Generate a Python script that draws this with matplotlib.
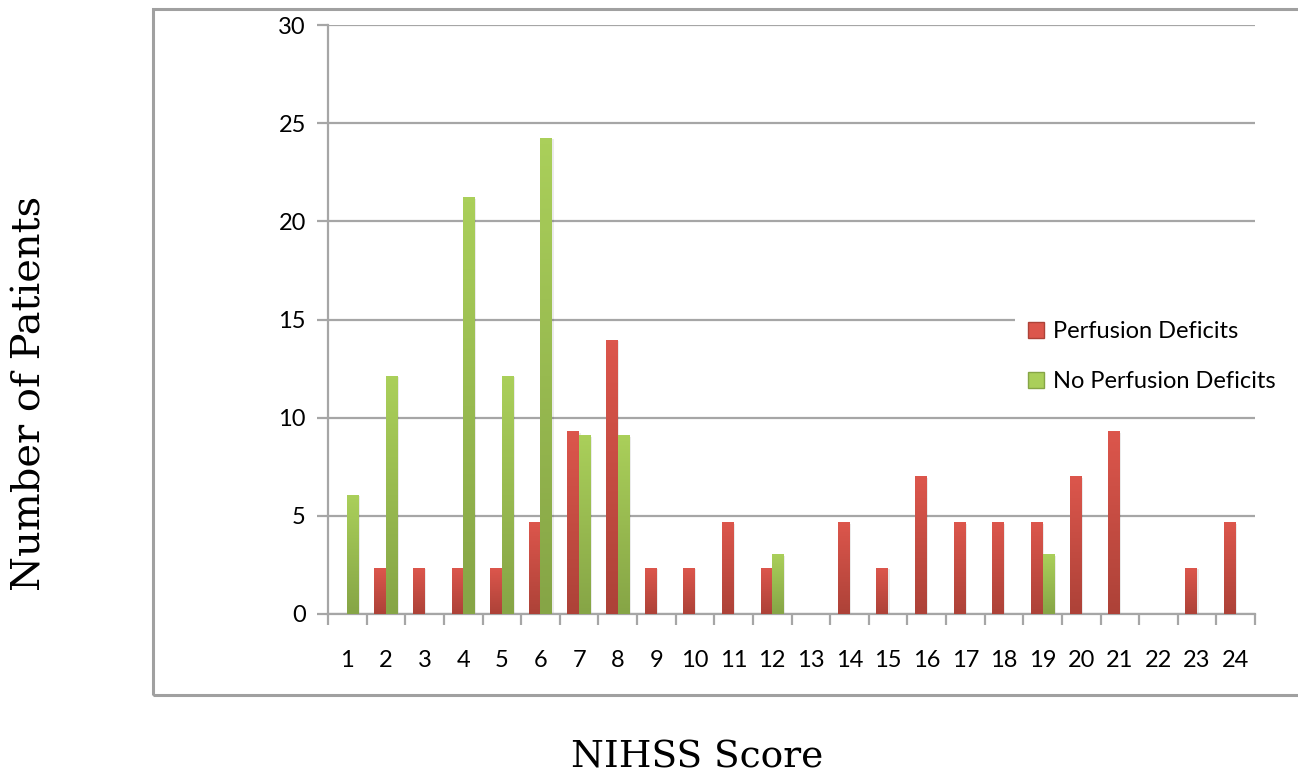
import numpy as np
import matplotlib
matplotlib.use("Agg")
import matplotlib.pyplot as plt
from matplotlib.patches import Rectangle
from matplotlib.colors import LinearSegmentedColormap
from matplotlib.lines import Line2D

# NIHSS scores shown on the x axis
scores = [str(s) for s in range(1, 25)]

# Percent of patients in each group for every NIHSS score
perfusion = [0, 2.33, 2.33, 2.33, 2.33, 4.65, 9.30, 13.95, 2.33, 2.33, 4.65, 2.33,
             0, 4.65, 2.33, 6.98, 4.65, 4.65, 4.65, 6.98, 9.30, 0, 2.33, 4.65]
no_perfusion = [6.06, 12.12, 0, 21.21, 12.12, 24.24, 9.09, 9.09, 0, 0, 0, 3.03,
                0, 0, 0, 0, 0, 0, 3.03, 0, 0, 0, 0, 0]

series_names = ["Perfusion Deficits", "No Perfusion Deficits"]
y_ticks = [0, 5, 10, 15, 20, 25, 30]

red_top, red_bot = "#dc564c", "#ad4238"
green_top, green_bot = "#aacf5a", "#86a546"
grid_col = "#a6a6a6"

W, H = 1298, 778
fig = plt.figure(figsize=(W / 100, H / 100), dpi=100)
ax = fig.add_axes([328 / W, 1 - 614 / H, (1255 - 328) / W, (614 - 25) / H])

# outer chart frame
fig.patches.append(Rectangle((153 / W, 1 - 695 / H), 1.2, (695 - 9) / H,
                             transform=fig.transFigure, fill=False,
                             edgecolor="#a0a0a0", linewidth=2.2, zorder=0))

n = len(scores)
x = np.arange(n)
bw = 0.3


def gradient_bar(xl, h, top, bot):
    if h <= 0:
        return
    cmap = LinearSegmentedColormap.from_list("g", [bot, top])
    grad = np.linspace(0, 1, 64).reshape(-1, 1)
    # soft drop shadow
    ax.add_patch(Rectangle((xl + 0.04, 0), bw, h - 0.06, facecolor="#000000",
                           alpha=0.08, edgecolor="none", zorder=2))
    ax.imshow(grad, cmap=cmap, origin="lower", aspect="auto",
              extent=(xl, xl + bw, 0, h), zorder=3, interpolation="bilinear")


for i in range(n):
    gradient_bar(x[i] - bw, perfusion[i], red_top, red_bot)
    gradient_bar(x[i], no_perfusion[i], green_top, green_bot)

ax.set_xlim(-0.5, n - 0.5)
ax.set_ylim(0, 30)

ax.set_yticks(y_ticks)
ax.set_yticklabels([str(v) for v in y_ticks])
ax.yaxis.grid(True, color=grid_col, linewidth=1.6, zorder=1)
ax.set_axisbelow(True)

ax.set_xticks(np.arange(n + 1) - 0.5)
ax.set_xticklabels([])
ax.set_xticks(x, minor=True)
ax.set_xticklabels(scores, minor=True)

ax.tick_params(axis="x", which="major", length=8, width=1.6, color=grid_col, direction="out")
ax.tick_params(axis="x", which="minor", length=0, pad=26, labelsize=17)
ax.tick_params(axis="y", length=8, width=1.6, color=grid_col, pad=8, labelsize=17)

for side in ["top", "right"]:
    ax.spines[side].set_visible(False)
for side in ["left", "bottom"]:
    ax.spines[side].set_color(grid_col)
    ax.spines[side].set_linewidth(1.6)

for lab in ax.get_xticklabels(minor=True) + ax.get_yticklabels():
    lab.set_fontfamily("Lato")

handles = [Line2D([], [], marker="s", linestyle="none", markersize=11,
                  markerfacecolor=red_top, markeredgecolor=red_bot),
           Line2D([], [], marker="s", linestyle="none", markersize=11,
                  markerfacecolor=green_top, markeredgecolor=green_bot)]
leg = ax.legend(handles, series_names, loc="upper left",
                bbox_to_anchor=(1015 / W, 1 - 312 / H), bbox_transform=fig.transFigure,
                frameon=True, fancybox=False, framealpha=1, edgecolor="none",
                facecolor="white", prop={"family": "Lato", "size": 17},
                handletextpad=0.2, labelspacing=1.22, borderaxespad=0,
                handlelength=1.0)
leg.set_zorder(5)

fig.text(30 / W, 1 - 393 / H, "Number of Patients", rotation=90,
         ha="center", va="center", fontsize=28.8, family="DejaVu Serif")
fig.text(697 / W, 1 - 757 / H, "NIHSS Score", ha="center", va="center",
         fontsize=27, family="DejaVu Serif")

fig.savefig("out.png", dpi=100, facecolor="white")
